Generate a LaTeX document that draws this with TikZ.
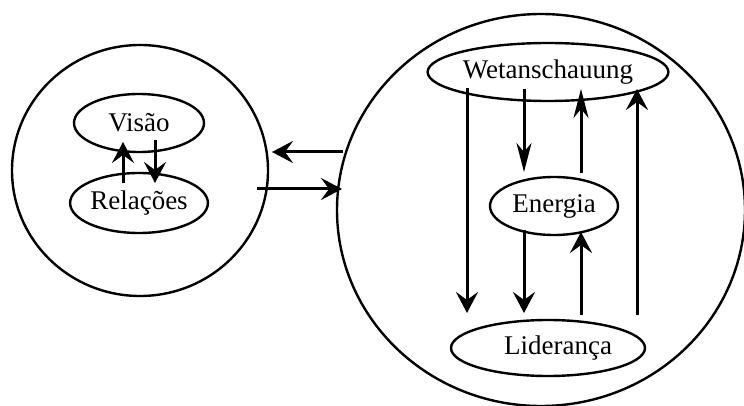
\documentclass[tikz,border=0pt]{standalone}
\usepackage{fontspec}
\setmainfont{Liberation Serif}
\usetikzlibrary{arrows.meta,shapes.geometric,calc}
\tikzset{
  big/.style={draw, ellipse, line width=2.4pt, inner sep=0pt},
  oval/.style={draw, ellipse, line width=2.4pt, inner sep=0pt, font=\fontsize{27}{30}\selectfont},
  arr/.style={line width=3pt, -{Stealth[length=21pt,width=22pt,inset=8pt]}},
  slim/.style={line width=3pt, -{Stealth[length=29pt,width=15pt,inset=9pt]}}
}
\begin{document}
\begin{tikzpicture}[x=1pt,y=-1pt]
\useasboundingbox (0,0) rectangle (744,406);
\clip (0,0) rectangle (744,406);
% big circles
\node[big, minimum width=256pt, minimum height=251pt] (L) at (140,170.5) {};
\node[big, minimum width=408pt, minimum height=392pt] (R) at (541,210) {};
% left ovals
\node[oval, minimum width=130pt, minimum height=58pt] (Vis) at (139,123) {Visão};
\node[oval, minimum width=130pt, minimum height=60pt] (Rel) at (139,203) {Relações};
% right ovals
\node[oval, minimum width=194pt, minimum height=58pt] (Wet) at (548,72) {Wetanschauung};
\node[oval, minimum width=128pt, minimum height=58pt] (Ene) at (554,206) {Energia};
\node[oval, minimum width=194pt, minimum height=56pt] (Lid) at (548,348) {\hspace*{20pt}Liderança};
% left arrows
\draw[arr] ($(Rel.center)+(-16,-20)$) -- ($(Vis.center)+(-16,19)$);
\draw[arr] ($(Vis.center)+(16,17)$) -- ($(Rel.center)+(16,-20)$);
% between circles
\draw[arr] ($(R.center)+(-198,-58)$) -- ($(L.center)+(132,-18.5)$);
\draw[arr] ($(L.center)+(117,18.5)$) -- ($(R.center)+(-199,-21)$);
% right arrows
\draw[arr] ($(Wet.center)+(-81,16)$) -- ($(Lid.center)+(-81,-35)$);
\draw[slim] ($(Wet.center)+(-24,17)$) -- ($(Ene.center)+(-30,-34)$);
\draw[slim] ($(Ene.center)+(27,-33)$) -- ($(Wet.center)+(33,17)$);
\draw[arr] ($(Lid.center)+(89,-33)$) -- ($(Wet.center)+(89,17)$);
\draw[arr] ($(Ene.center)+(-30,24)$) -- ($(Lid.center)+(-24,-35)$);
\draw[arr] ($(Lid.center)+(33,-33)$) -- ($(Ene.center)+(27,26)$);
\end{tikzpicture}
\end{document}
